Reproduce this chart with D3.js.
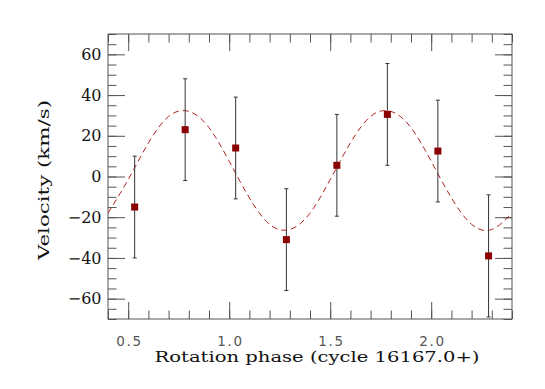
<!DOCTYPE html>
<html>
  <head>
    <meta charset="utf-8">
    <title>Radial velocity vs rotation phase</title>
    <script src="https://d3js.org/d3.v7.min.js"></script>
    <style>
      body { margin: 0; background: #fff; }
      .tick line { stroke: #555; }
      .ylab text { font-family: "DejaVu Serif", serif; font-size: 16px; fill: #111; }
      .xlab text { font-family: "DejaVu Sans", sans-serif; font-size: 13.5px; fill: #555; }
      .title { font-family: "DejaVu Serif", serif; font-size: 15.5px; fill: #111; }
    </style>
  </head>
  <body>
    <div id="chart"></div>
    <script>
    // observed points: rotation phase, velocity (km/s), error
    const phase = [0.532, 0.782, 1.032, 1.283, 1.533, 1.783, 2.033, 2.284];
    const velocity = [-15, 23, 14, -31, 5.5, 30.5, 12.5, -39];
    const errVel = [25, 25, 25, 25, 25, 25, 25, 30];

    // fitted curve at steps of 0.1 in phase
    const fitPhase = [0.4, 0.5, 0.6, 0.7, 0.8, 0.9, 1.0, 1.1, 1.2, 1.3, 1.4,
                      1.5, 1.6, 1.7, 1.8, 1.9, 2.0, 2.1, 2.2, 2.3, 2.4];
    const fitVel = [-18, -1.5, 16.5, 29.5, 32, 24, 7.5, -10.5, -23.5, -26, -18,
                    -1.5, 16.5, 29.5, 32, 24, 7.5, -10.5, -23.5, -26, -18];

    const xTicks = [0.5, 1.0, 1.5, 2.0];
    const yTicks = [-60, -40, -20, 0, 20, 40, 60];

    const W = 545, H = 389;
    const margin = {top: 34, right: 33, bottom: 70, left: 108};
    const width = W - margin.left - margin.right,
          height = H - margin.top - margin.bottom;

    const svg = d3.select("#chart").append("svg")
      .attr("width", W)
      .attr("height", H);
    const g = svg.append("g")
      .attr("transform", `translate(${margin.left},${margin.top})`);

    const x = d3.scaleLinear().domain([0.4, 2.4]).range([0, width]);
    const y = d3.scaleLinear().domain([-70, 70]).range([height, 0]);

    const xMinor = d3.range(4, 25).map(d => d / 10);
    const yMinor = d3.range(-70, 71, 5);

    // minor ticks on all four sides
    const minorLen = -8.5, majorLen = -17;
    g.append("g").attr("transform", `translate(0,${height})`)
      .call(d3.axisBottom(x).tickValues(xMinor).tickSize(minorLen).tickFormat(""));
    g.append("g")
      .call(d3.axisTop(x).tickValues(xMinor).tickSize(minorLen).tickFormat(""));
    g.append("g")
      .call(d3.axisLeft(y).tickValues(yMinor).tickSize(minorLen).tickFormat(""));
    g.append("g").attr("transform", `translate(${width},0)`)
      .call(d3.axisRight(y).tickValues(yMinor).tickSize(minorLen).tickFormat(""));

    // major ticks
    g.append("g").attr("class", "xlab").attr("transform", `translate(0,${height})`)
      .call(d3.axisBottom(x).tickValues(xTicks).tickSize(majorLen).tickPadding(17).tickFormat(d3.format(".1f")))
      .selectAll("text")
      .attr("textLength", 25).attr("lengthAdjust", "spacing");
    g.append("g")
      .call(d3.axisTop(x).tickValues(xTicks).tickSize(majorLen).tickFormat(""));
    g.append("g").attr("class", "ylab")
      .call(d3.axisLeft(y).tickValues(yTicks).tickSize(majorLen).tickPadding(6.5));
    g.append("g").attr("transform", `translate(${width},0)`)
      .call(d3.axisRight(y).tickValues(yTicks).tickSize(majorLen).tickFormat(""));

    g.selectAll(".domain").remove();

    // frame
    g.append("rect")
      .attr("width", width).attr("height", height)
      .attr("fill", "none").attr("stroke", "#555").attr("stroke-width", 1);

    // clip for the fit curve
    svg.append("clipPath").attr("id", "plotclip")
      .append("rect").attr("width", width).attr("height", height);

    const line = d3.line()
      .x((d, i) => x(fitPhase[i]))
      .y(d => y(d))
      .curve(d3.curveNatural);

    g.append("path")
      .attr("clip-path", "url(#plotclip)")
      .attr("d", line(fitVel))
      .attr("fill", "none")
      .attr("stroke", "#b22222")
      .attr("stroke-width", 1)
      .attr("stroke-dasharray", "6,4");

    // error bars
    const pts = phase.map((p, i) => ({p: p, v: velocity[i], e: errVel[i]}));
    const eb = g.selectAll(".err").data(pts).enter().append("g").attr("class", "err")
      .attr("stroke", "#333").attr("stroke-width", 1);
    eb.append("line")
      .attr("x1", d => x(d.p)).attr("x2", d => x(d.p))
      .attr("y1", d => y(d.v + d.e)).attr("y2", d => y(d.v - d.e));
    eb.append("line")
      .attr("x1", d => x(d.p) - 2).attr("x2", d => x(d.p) + 2)
      .attr("y1", d => y(d.v + d.e)).attr("y2", d => y(d.v + d.e));
    eb.append("line")
      .attr("x1", d => x(d.p) - 2).attr("x2", d => x(d.p) + 2)
      .attr("y1", d => y(d.v - d.e)).attr("y2", d => y(d.v - d.e));

    // square markers
    const s = 7;
    g.selectAll(".pt").data(pts).enter().append("rect")
      .attr("class", "pt")
      .attr("x", d => x(d.p) - s / 2)
      .attr("y", d => y(d.v) - s / 2)
      .attr("width", s).attr("height", s)
      .attr("fill", "#8b0000");

    // axis titles
    svg.append("text").attr("class", "title")
      .attr("x", margin.left + width / 2 + 7)
      .attr("y", 362)
      .attr("text-anchor", "middle")
      .attr("textLength", 325).attr("lengthAdjust", "spacingAndGlyphs")
      .text("Rotation phase (cycle 16167.0+)");

    svg.append("text").attr("class", "title")
      .attr("transform", "translate(49,180) rotate(-90)")
      .attr("text-anchor", "middle")
      .attr("textLength", 160).attr("lengthAdjust", "spacingAndGlyphs")
      .text("Velocity (km/s)");
    </script>
  </body>
</html>
